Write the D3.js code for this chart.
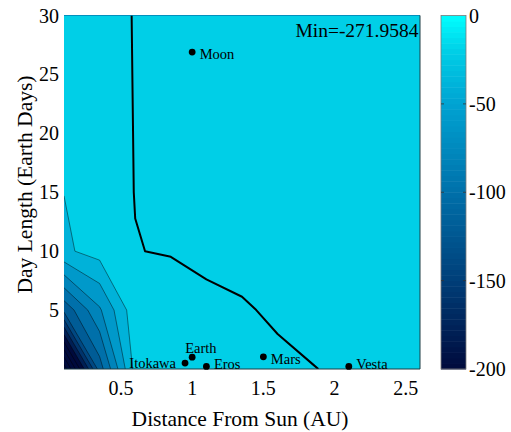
<!DOCTYPE html>
<meta charset="utf-8">
<script src="https://d3js.org/d3.v7.min.js"></script>
<style>
  body { margin: 0; background: #fff; }
  text { font-family: "Liberation Serif", "Times New Roman", serif; fill: #000; }
</style>

<div id="chart"></div>

<script>
    // grid of the surface: distance columns and day-length rows
    const distances = [0.1, 0.35, 0.6, 0.85, 1.1, 1.35, 1.6, 1.85, 2.1, 2.35, 2.6];
    const dayLengths = [0, 5, 10, 15, 20, 25, 30];

    // one row of values per day length, shortest day first
    const zRow0  = [-271.9584, -110, -13, -10, -7, -4.5, -2.56, -0.32, 1.9, 3, 3.8];
    const zRow5  = [-114.6, -62.8, -6.5, -14.06, -3.25, -1.17, 1.75, 4, 5, 6, 6.5];
    const zRow10 = [-23.4, -12.3, -0.57, 1.49, 3, 4, 5, 6, 7, 7.5, 8];
    const zRow15 = [-19.78, -11, 0.46, 3, 5, 6, 7, 8, 8.5, 9, 9.5];
    const zRow20 = [-18, -10, 0.64, 3.5, 5.5, 6.5, 7.5, 8.5, 9, 9.5, 10];
    const zRow25 = [-17, -9.5, 0.83, 4, 6, 7, 8, 9, 9.5, 10, 10.5];
    const zRow30 = [-16, -9, 1.0, 4.5, 6.5, 7.5, 8.5, 9.5, 10, 10.5, 11];

    // filled contour levels and the highlighted level
    const levels = [-260, -240, -220, -200, -180, -160, -140, -120, -100, -80, -60, -40, -20];
    const zeroLevel = 0;

    // bodies marked on the chart
    const bodies = ["Moon", "Earth", "Itokawa", "Eros", "Mars", "Vesta"];
    const bodyDistance = [1.0, 1.0, 0.95, 1.1, 1.5, 2.1];
    const bodyDay = [26.9, 1.0, 0.5, 0.22, 1.03, 0.22];

    const xTicks = [0.5, 1, 1.5, 2, 2.5];
    const yTicks = [5, 10, 15, 20, 25, 30];
    const cbTicks = [0, -50, -100, -150, -200];

    // colormap stops (value -> colour)
    const cmapValues = [-200, -150, -100, -50, -20, 0];
    const cmapColors = ["#000a3c", "#003e78", "#0070aa", "#00a3d2", "#00cfe7", "#00ffff"];

    // label placement per body
    const labelPos = {
        Moon: { dx: 7.5, dy: 6.5, anchor: "start" },
        Earth: { dx: -7, dy: -4, anchor: "start" },
        Itokawa: { dx: -9, dy: 5, anchor: "end" },
        Eros: { dx: 7.5, dy: 3, anchor: "start" },
        Mars: { dx: 7.5, dy: 7, anchor: "start" },
        Vesta: { dx: 7.5, dy: 2.5, anchor: "start" }
    };

    const W = 511, H = 432;
    const pLeft = 64, pRight = 420, pTop = 15.5, pBottom = 369;

    const svg = d3.select("#chart").append("svg")
        .attr("width", W)
        .attr("height", H);

    const x = d3.scaleLinear().domain([0.1, 2.6]).range([pLeft, pRight]);
    const y = d3.scaleLinear().domain([0, 30]).range([pBottom, pTop]);
    const color = d3.scaleLinear().domain(cmapValues).range(cmapColors).clamp(true);

    svg.append("clipPath").attr("id", "plotclip")
        .append("rect")
        .attr("x", pLeft).attr("y", pTop)
        .attr("width", pRight - pLeft).attr("height", pBottom - pTop);

    const zRows = [zRow0, zRow5, zRow10, zRow15, zRow20, zRow25, zRow30];
    const values = zRows.flat();
    const nx = distances.length, ny = dayLengths.length;
    const zMin = d3.min(values);

    // grid index -> data value
    const gx = d3.scaleLinear().domain(d3.range(nx)).range(distances);
    const gy = d3.scaleLinear().domain(d3.range(ny)).range(dayLengths);
    const clampI = (v, n) => Math.max(0, Math.min(n - 1, v));
    const idx = (c, r) => [clampI(c - 0.5, nx), clampI(r - 0.5, ny)];
    const toPx = (i, j) => [x(gx(i)), y(gy(j))];

    const proj = d3.geoTransform({
        point: function (c, r) {
            const p = idx(c, r);
            const q = toPx(p[0], p[1]);
            this.stream.point(q[0], q[1]);
        }
    });
    const path = d3.geoPath(proj);

    const contourGen = d3.contours().size([nx, ny]).thresholds(levels);
    const bands = contourGen(values);

    // strip the parts of a ring that run along the plot border
    function innerLines(geom) {
        const out = [];
        geom.coordinates.forEach(function (poly) {
            poly.forEach(function (ring) {
                const pts = ring.map(function (p) { return idx(p[0], p[1]); });
                let cur = [];
                for (let k = 0; k < pts.length - 1; k++) {
                    const a = pts[k], b = pts[k + 1];
                    const onBorder = (a[0] === 0 && b[0] === 0) || (a[0] === nx - 1 && b[0] === nx - 1) ||
                        (a[1] === 0 && b[1] === 0) || (a[1] === ny - 1 && b[1] === ny - 1);
                    if (onBorder) {
                        if (cur.length > 1) out.push(cur);
                        cur = [];
                    } else {
                        if (cur.length === 0) cur.push(toPx(a[0], a[1]));
                        cur.push(toPx(b[0], b[1]));
                    }
                }
                if (cur.length > 1) out.push(cur);
            });
        });
        return out;
    }

    const plot = svg.append("g").attr("clip-path", "url(#plotclip)");

    // lowest band
    plot.append("rect")
        .attr("x", pLeft).attr("y", pTop)
        .attr("width", pRight - pLeft).attr("height", pBottom - pTop)
        .attr("fill", color(zMin));

    plot.selectAll("path.band")
        .data(bands)
        .join("path")
        .attr("class", "band")
        .attr("d", path)
        .attr("fill", function (d) { return color(d.value); });

    const line = d3.line();
    bands.forEach(function (b) {
        innerLines(b).forEach(function (l) {
            plot.append("path")
                .attr("d", line(l))
                .attr("fill", "none")
                .attr("stroke", "#000")
                .attr("stroke-opacity", 0.75)
                .attr("stroke-width", 0.6);
        });
    });

    // highlighted zero contour
    const zeroContour = d3.contours().size([nx, ny]).contour(values, zeroLevel);
    innerLines(zeroContour).forEach(function (l) {
        plot.append("path")
            .attr("d", line(l))
            .attr("fill", "none")
            .attr("stroke", "#000")
            .attr("stroke-width", 2)
            .attr("stroke-linejoin", "round");
    });

    // plot frame (bottom and right visible in the reference)
    svg.append("line")
        .attr("x1", pLeft).attr("x2", pRight).attr("y1", pBottom).attr("y2", pBottom)
        .attr("stroke", "#1d3c44").attr("stroke-width", 1);
    svg.append("line")
        .attr("x1", pRight).attr("x2", pRight).attr("y1", pTop).attr("y2", pBottom)
        .attr("stroke", "#1d3c44").attr("stroke-width", 1);

    // bodies
    const bodyData = bodies.map(function (name, i) {
        return { name: name, dist: bodyDistance[i], day: bodyDay[i] };
    });

    svg.selectAll("circle.body")
        .data(bodyData)
        .join("circle")
        .attr("class", "body")
        .attr("cx", function (d) { return x(d.dist); })
        .attr("cy", function (d) { return y(d.day); })
        .attr("r", 3.4)
        .attr("fill", "#000");

    svg.selectAll("text.body")
        .data(bodyData)
        .join("text")
        .attr("class", "body")
        .attr("x", function (d) { return x(d.dist) + labelPos[d.name].dx; })
        .attr("y", function (d) { return y(d.day) + labelPos[d.name].dy; })
        .attr("text-anchor", function (d) { return labelPos[d.name].anchor; })
        .style("font-size", "14.5px")
        .text(function (d) { return d.name; });

    svg.append("text")
        .attr("x", 418.5)
        .attr("y", 36.5)
        .attr("text-anchor", "end")
        .style("font-size", "19.5px")
        .text("Min=" + zMin.toFixed(4));

    // tick labels
    svg.selectAll("text.xt")
        .data(xTicks)
        .join("text")
        .attr("class", "xt")
        .attr("x", function (d) { return x(d); })
        .attr("y", 395)
        .attr("text-anchor", "middle")
        .style("font-size", "20px")
        .text(function (d) { return d; });

    svg.selectAll("text.yt")
        .data(yTicks)
        .join("text")
        .attr("class", "yt")
        .attr("x", 59)
        .attr("y", function (d) { return y(d); })
        .attr("dy", "0.35em")
        .attr("text-anchor", "end")
        .style("font-size", "20px")
        .text(function (d) { return d; });

    svg.append("text")
        .attr("x", 240)
        .attr("y", 426)
        .attr("text-anchor", "middle")
        .style("font-size", "21.5px")
        .text("Distance From Sun (AU)");

    svg.append("text")
        .attr("transform", "translate(31.5,184.5) rotate(-90)")
        .attr("text-anchor", "middle")
        .style("font-size", "21.5px")
        .text("Day Length (Earth Days)");

    // colorbar
    const cbLeft = 441, cbRight = 466;
    const cy = d3.scaleLinear().domain([-200, 0]).range([pBottom, pTop]);
    const steps = d3.range(64);
    const stepH = (pBottom - pTop) / 64;

    svg.selectAll("rect.cb")
        .data(steps)
        .join("rect")
        .attr("class", "cb")
        .attr("x", cbLeft)
        .attr("y", function (i) { return pBottom - (i + 1) * stepH; })
        .attr("width", cbRight - cbLeft)
        .attr("height", stepH + 0.5)
        .attr("fill", function (i) { return color(-200 + (i + 0.5) * 200 / 64); });

    svg.append("rect")
        .attr("x", cbLeft).attr("y", pTop)
        .attr("width", cbRight - cbLeft).attr("height", pBottom - pTop)
        .attr("fill", "none")
        .attr("stroke", "#7a7a7a")
        .attr("stroke-width", 0.8);

    cbTicks.filter(function (t) { return t > -200 && t < 0; }).forEach(function (t) {
        svg.append("line")
            .attr("x1", cbLeft).attr("x2", cbLeft + 3)
            .attr("y1", cy(t)).attr("y2", cy(t))
            .attr("stroke", "#333").attr("stroke-width", 0.8);
        svg.append("line")
            .attr("x1", cbRight - 3).attr("x2", cbRight)
            .attr("y1", cy(t)).attr("y2", cy(t))
            .attr("stroke", "#333").attr("stroke-width", 0.8);
    });

    svg.selectAll("text.cbt")
        .data(cbTicks)
        .join("text")
        .attr("class", "cbt")
        .attr("x", 469)
        .attr("y", function (d) { return cy(d); })
        .attr("dy", "0.35em")
        .style("font-size", "20px")
        .text(function (d) { return d; });
</script>
